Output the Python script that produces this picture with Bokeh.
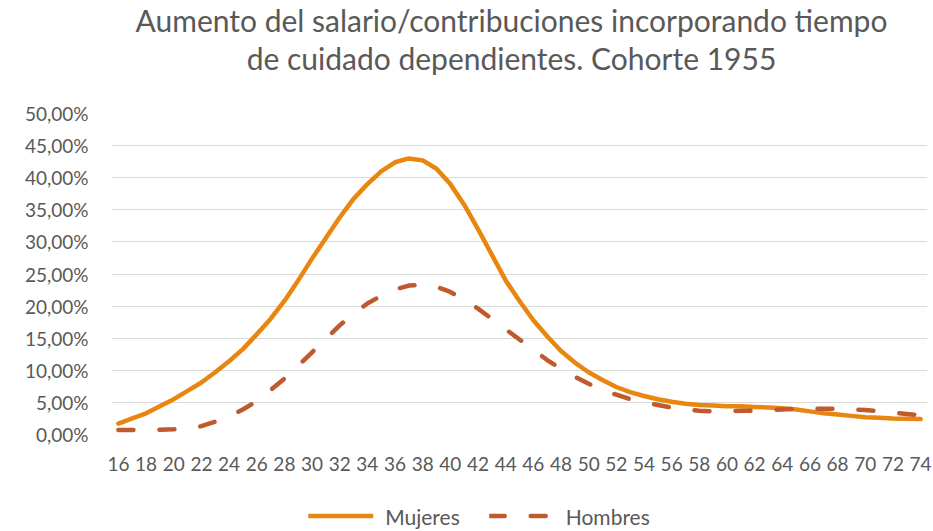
from bokeh.plotting import figure
from bokeh.models import Legend, LegendItem, FixedTicker, ColumnDataSource, Range1d, Div
from bokeh.layouts import column
from bokeh.embed import file_html
from bokeh.resources import INLINE

# ---- data ----
ages = list(range(16, 75))
mujeres = [1.7, 2.5, 3.3, 4.4, 5.5, 6.8, 8.1, 9.7, 11.4, 13.3,
           15.6, 18.0, 20.8, 24.0, 27.4, 30.6, 33.8, 36.7, 39.0, 41.0,
           42.4, 43.0, 42.7, 41.4, 39.0, 35.8, 32.0, 28.0, 24.0, 20.8,
           17.8, 15.3, 13.0, 11.2, 9.7, 8.5, 7.4, 6.6, 6.0, 5.5,
           5.1, 4.8, 4.6, 4.5, 4.4, 4.4, 4.3, 4.2, 4.1, 3.9,
           3.6, 3.3, 3.1, 2.9, 2.7, 2.6, 2.5, 2.45, 2.4]
hombres = [0.7, 0.7, 0.7, 0.75, 0.8, 0.9, 1.3, 2.0, 2.8, 3.9,
           5.2, 6.9, 8.7, 10.7, 12.8, 14.9, 17.0, 18.8, 20.4, 21.6,
           22.6, 23.2, 23.3, 23.0, 22.2, 21.0, 19.6, 18.0, 16.4, 14.8,
           13.2, 11.6, 10.2, 9.0, 7.9, 6.9, 6.2, 5.5, 5.0, 4.6,
           4.2, 3.9, 3.7, 3.6, 3.6, 3.7, 3.7, 3.8, 3.9, 4.0,
           4.0, 4.0, 4.0, 3.9, 3.8, 3.6, 3.4, 3.2, 3.0]
x_ticks = list(range(16, 75, 2))
y_ticks = [0, 5, 10, 15, 20, 25, 30, 35, 40, 45, 50]
y_labels = ["0,00%", "5,00%", "10,00%", "15,00%", "20,00%", "25,00%",
            "30,00%", "35,00%", "40,00%", "45,00%", "50,00%"]
title_lines = ["Aumento del salario/contribuciones incorporando tiempo",
               "de cuidado dependientes. Cohorte 1955"]
series_names = ["Mujeres", "Hombres"]

FONT = "Lato"
GRAY = "#595959"
C_M = "#E8860F"
C_H = "#C05A2C"
W = 933

src = ColumnDataSource(dict(age=ages, m=mujeres, h=hombres))

# ---- title ----
title_div = Div(
    text=('<div style="font-family:Lato; font-size:30px; line-height:38px; '
          'color:%s; text-align:center; position:relative; left:45px; top:1px; '
          'width:933px; white-space:nowrap;">%s<br>%s</div>') % (GRAY, title_lines[0], title_lines[1]),
    width=W, height=100, margin=0)

# ---- main chart ----
p = figure(frame_width=816, frame_height=321, output_backend="svg", toolbar_location=None,
           x_range=Range1d(15.5, 74.5), y_range=Range1d(0, 50),
           min_border_left=111, min_border_right=6, min_border_top=13,
           min_border_bottom=50, outline_line_color=None, margin=0)

rm = p.line("age", "m", source=src, line_color=C_M, line_width=4.5,
            line_cap="round", line_join="round")
rh = p.line("age", "h", source=src, line_color=C_H, line_width=4.5,
            line_dash="15 26", line_cap="round", line_join="round")

p.xaxis.ticker = FixedTicker(ticks=x_ticks)
p.yaxis.ticker = FixedTicker(ticks=y_ticks)
p.yaxis.major_label_overrides = {t: l for t, l in zip(y_ticks, y_labels)}
for ax in (p.xaxis, p.yaxis):
    ax.axis_line_color = None
    ax.major_tick_line_color = None
    ax.minor_tick_line_color = None
    ax.major_tick_out = 0
    ax.major_tick_in = 0
    ax.minor_tick_out = 0
    ax.major_label_text_font = FONT
    ax.major_label_text_color = GRAY
    ax.major_label_text_font_size = "19px"
p.xaxis.major_label_standoff = 22
p.yaxis.major_label_standoff = 23

p.xgrid.grid_line_color = None
p.ygrid.grid_line_color = "#D9D9D9"
p.ygrid.grid_line_width = 1.2

# ---- legend strip (same series, legend only) ----
lf = figure(width=W, height=45, output_backend="svg", toolbar_location=None,
            x_range=Range1d(0, 1), y_range=Range1d(1000, 1001),
            x_axis_location=None, y_axis_location=None,
            min_border_left=0, min_border_right=86, min_border_top=18,
            min_border_bottom=0, outline_line_color=None, margin=0)
lf.grid.grid_line_color = None
lm = lf.line("age", "m", source=src, line_color=C_M, line_width=4.5,
             line_cap="round")
lh = lf.line("age", "h", source=src, line_color=C_H, line_width=4.5,
             line_dash="15 26", line_cap="round")
legend = Legend(items=[LegendItem(label=series_names[0], renderers=[lm]),
                       LegendItem(label=series_names[1], renderers=[lh])],
                orientation="horizontal", location="center",
                label_text_font=FONT, label_text_font_size="21px",
                label_text_color=GRAY, glyph_width=65, glyph_height=20,
                label_height=20, label_standoff=12, spacing=29,
                border_line_color=None, background_fill_alpha=0,
                padding=0, margin=0)
lf.add_layout(legend, "center")

layout = column(title_div, p, lf, spacing=0)
open("out.html", "w").write(file_html(layout, INLINE))
